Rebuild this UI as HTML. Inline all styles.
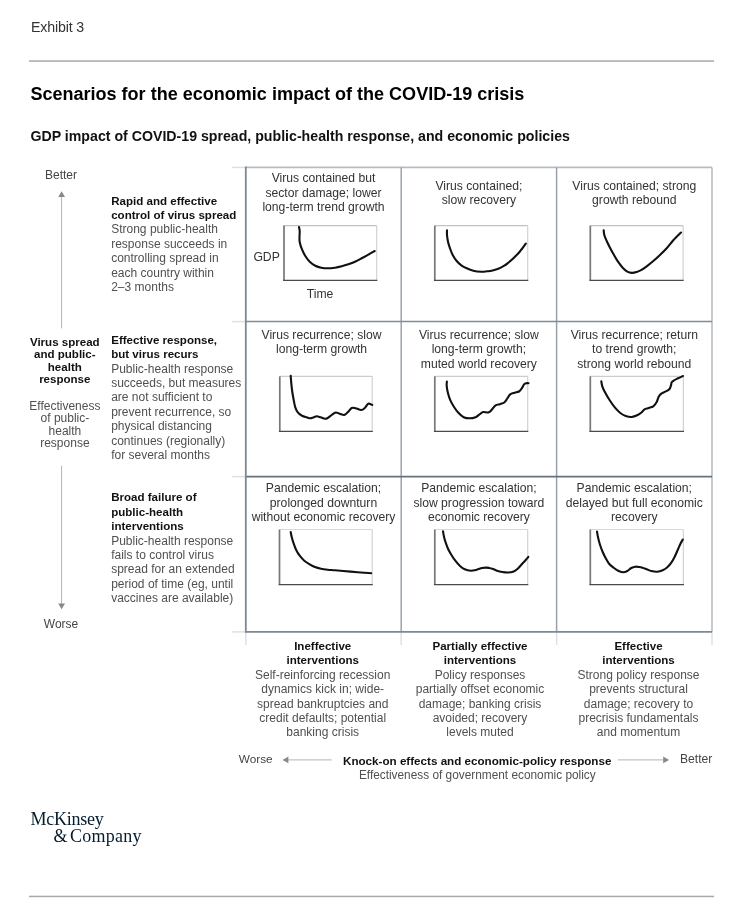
<!DOCTYPE html>
<html><head><meta charset="utf-8"><title>Exhibit 3</title>
<style>
html,body{margin:0;padding:0;background:#fff;}
body{width:750px;height:917px;overflow:hidden;}
svg{display:block;will-change:transform;font-family:"Liberation Sans",Arial,sans-serif;}
</style></head><body>
<svg width="750" height="917" viewBox="0 0 750 917">
<text x="31" y="32" font-size="14.2" font-weight="normal" fill="#333" text-anchor="start" letter-spacing="-0.15">Exhibit 3</text>
<rect x="29" y="60.3" width="685" height="1.5" fill="#a8a8a8"/>
<text x="30.4" y="100.3" font-size="18.05" font-weight="bold" fill="#000" text-anchor="start">Scenarios for the economic impact of the COVID-19 crisis</text>
<text x="30.5" y="140.9" font-size="14.16" font-weight="bold" fill="#111" text-anchor="start">GDP impact of COVID-19 spread, public-health response, and economic policies</text>
<text x="61" y="179.3" font-size="12" font-weight="normal" fill="#444" text-anchor="middle">Better</text>
<text x="61" y="627.6" font-size="12" font-weight="normal" fill="#444" text-anchor="middle">Worse</text>
<line x1="61.6" y1="196" x2="61.6" y2="328.4" stroke="#b4b4b4" stroke-width="1"/>
<polygon points="61.6,191.3 58.2,197 65,197" fill="#888"/>
<line x1="61.6" y1="465.7" x2="61.6" y2="604.5" stroke="#b4b4b4" stroke-width="1"/>
<polygon points="61.6,609.3 58.2,603.6 65,603.6" fill="#888"/>
<text x="64.8" y="345.5" font-size="11.55" font-weight="bold" fill="#111" text-anchor="middle">Virus spread</text>
<text x="64.8" y="358.0" font-size="11.55" font-weight="bold" fill="#111" text-anchor="middle">and public-</text>
<text x="64.8" y="370.5" font-size="11.55" font-weight="bold" fill="#111" text-anchor="middle">health</text>
<text x="64.8" y="383.0" font-size="11.55" font-weight="bold" fill="#111" text-anchor="middle">response</text>
<text x="64.9" y="409.5" font-size="12.0" font-weight="normal" fill="#505050" text-anchor="middle">Effectiveness</text>
<text x="64.9" y="422.1" font-size="12.0" font-weight="normal" fill="#505050" text-anchor="middle">of public-</text>
<text x="64.9" y="434.7" font-size="12.0" font-weight="normal" fill="#505050" text-anchor="middle">health</text>
<text x="64.9" y="447.3" font-size="12.0" font-weight="normal" fill="#505050" text-anchor="middle">response</text>
<text x="111.2" y="204.6" font-size="11.55" font-weight="bold" fill="#111" text-anchor="start">Rapid and effective</text>
<text x="111.2" y="219.0" font-size="11.55" font-weight="bold" fill="#111" text-anchor="start">control of virus spread</text>
<text x="111.2" y="233.4" font-size="12.0" font-weight="normal" fill="#505050" text-anchor="start">Strong public-health</text>
<text x="111.2" y="247.8" font-size="12.0" font-weight="normal" fill="#505050" text-anchor="start">response succeeds in</text>
<text x="111.2" y="262.2" font-size="12.0" font-weight="normal" fill="#505050" text-anchor="start">controlling spread in</text>
<text x="111.2" y="276.6" font-size="12.0" font-weight="normal" fill="#505050" text-anchor="start">each country within</text>
<text x="111.2" y="291.0" font-size="12.0" font-weight="normal" fill="#505050" text-anchor="start">2–3 months</text>
<text x="111.2" y="343.7" font-size="11.55" font-weight="bold" fill="#111" text-anchor="start">Effective response,</text>
<text x="111.2" y="358.1" font-size="11.55" font-weight="bold" fill="#111" text-anchor="start">but virus recurs</text>
<text x="111.2" y="372.5" font-size="12.0" font-weight="normal" fill="#505050" text-anchor="start">Public-health response</text>
<text x="111.2" y="386.9" font-size="12.0" font-weight="normal" fill="#505050" text-anchor="start">succeeds, but measures</text>
<text x="111.2" y="401.3" font-size="12.0" font-weight="normal" fill="#505050" text-anchor="start">are not sufficient to</text>
<text x="111.2" y="415.7" font-size="12.0" font-weight="normal" fill="#505050" text-anchor="start">prevent recurrence, so</text>
<text x="111.2" y="430.1" font-size="12.0" font-weight="normal" fill="#505050" text-anchor="start">physical distancing</text>
<text x="111.2" y="444.5" font-size="12.0" font-weight="normal" fill="#505050" text-anchor="start">continues (regionally)</text>
<text x="111.2" y="458.9" font-size="12.0" font-weight="normal" fill="#505050" text-anchor="start">for several months</text>
<text x="111.2" y="501.4" font-size="11.55" font-weight="bold" fill="#111" text-anchor="start">Broad failure of</text>
<text x="111.2" y="515.8" font-size="11.55" font-weight="bold" fill="#111" text-anchor="start">public-health</text>
<text x="111.2" y="530.2" font-size="11.55" font-weight="bold" fill="#111" text-anchor="start">interventions</text>
<text x="111.2" y="544.6" font-size="12.0" font-weight="normal" fill="#505050" text-anchor="start">Public-health response</text>
<text x="111.2" y="559.0" font-size="12.0" font-weight="normal" fill="#505050" text-anchor="start">fails to control virus</text>
<text x="111.2" y="573.4" font-size="12.0" font-weight="normal" fill="#505050" text-anchor="start">spread for an extended</text>
<text x="111.2" y="587.8" font-size="12.0" font-weight="normal" fill="#505050" text-anchor="start">period of time (eg, until</text>
<text x="111.2" y="602.2" font-size="12.0" font-weight="normal" fill="#505050" text-anchor="start">vaccines are available)</text>
<line x1="232" y1="167.4" x2="245.8" y2="167.4" stroke="#e0e0e0" stroke-width="1.5"/>
<line x1="232" y1="321.6" x2="245.8" y2="321.6" stroke="#e0e0e0" stroke-width="1.5"/>
<line x1="232" y1="476.6" x2="245.8" y2="476.6" stroke="#e0e0e0" stroke-width="1.5"/>
<line x1="232" y1="631.9" x2="245.8" y2="631.9" stroke="#e0e0e0" stroke-width="1.5"/>
<line x1="245.8" y1="631.9" x2="245.8" y2="645" stroke="#e0e0e0" stroke-width="1.5"/>
<line x1="401.2" y1="631.9" x2="401.2" y2="645" stroke="#e0e0e0" stroke-width="1.5"/>
<line x1="556.6" y1="631.9" x2="556.6" y2="645" stroke="#e0e0e0" stroke-width="1.5"/>
<line x1="712" y1="631.9" x2="712" y2="645" stroke="#e0e0e0" stroke-width="1.5"/>
<line x1="245.8" y1="167.4" x2="712" y2="167.4" stroke="#b7bcc3" stroke-width="1.6"/>
<line x1="712" y1="167.4" x2="712" y2="631.9" stroke="#c0c6cb" stroke-width="1.8"/>
<line x1="401.2" y1="167.4" x2="401.2" y2="631.9" stroke="#9aa4ad" stroke-width="1.5"/>
<line x1="556.6" y1="167.4" x2="556.6" y2="631.9" stroke="#98a0ac" stroke-width="1.5"/>
<line x1="245.8" y1="321.6" x2="712" y2="321.6" stroke="#808c96" stroke-width="1.5"/>
<line x1="245.8" y1="476.6" x2="712" y2="476.6" stroke="#66737d" stroke-width="1.6"/>
<line x1="245.8" y1="631.9" x2="712" y2="631.9" stroke="#7c8893" stroke-width="1.8"/>
<line x1="245.8" y1="166.6" x2="245.8" y2="632.8" stroke="#7b8994" stroke-width="1.8"/>
<text x="323.5" y="182.4" font-size="12.15" font-weight="normal" fill="#333" text-anchor="middle">Virus contained but</text>
<text x="323.5" y="196.75" font-size="12.15" font-weight="normal" fill="#333" text-anchor="middle">sector damage; lower</text>
<text x="323.5" y="211.1" font-size="12.15" font-weight="normal" fill="#333" text-anchor="middle">long-term trend growth</text>
<text x="478.9" y="189.6" font-size="12.15" font-weight="normal" fill="#333" text-anchor="middle">Virus contained;</text>
<text x="478.9" y="203.95" font-size="12.15" font-weight="normal" fill="#333" text-anchor="middle">slow recovery</text>
<text x="634.3" y="189.6" font-size="12.15" font-weight="normal" fill="#333" text-anchor="middle">Virus contained; strong</text>
<text x="634.3" y="203.95" font-size="12.15" font-weight="normal" fill="#333" text-anchor="middle">growth rebound</text>
<text x="321.5" y="338.8" font-size="12.15" font-weight="normal" fill="#333" text-anchor="middle">Virus recurrence; slow</text>
<text x="321.5" y="353.15" font-size="12.15" font-weight="normal" fill="#333" text-anchor="middle">long-term growth</text>
<text x="478.9" y="338.8" font-size="12.15" font-weight="normal" fill="#333" text-anchor="middle">Virus recurrence; slow</text>
<text x="478.9" y="353.15" font-size="12.15" font-weight="normal" fill="#333" text-anchor="middle">long-term growth;</text>
<text x="478.9" y="367.5" font-size="12.15" font-weight="normal" fill="#333" text-anchor="middle">muted world recovery</text>
<text x="634.3" y="338.8" font-size="12.15" font-weight="normal" fill="#333" text-anchor="middle">Virus recurrence; return</text>
<text x="634.3" y="353.15" font-size="12.15" font-weight="normal" fill="#333" text-anchor="middle">to trend growth;</text>
<text x="634.3" y="367.5" font-size="12.15" font-weight="normal" fill="#333" text-anchor="middle">strong world rebound</text>
<text x="323.5" y="492.2" font-size="12.15" font-weight="normal" fill="#333" text-anchor="middle">Pandemic escalation;</text>
<text x="323.5" y="506.55" font-size="12.15" font-weight="normal" fill="#333" text-anchor="middle">prolonged downturn</text>
<text x="323.5" y="520.9" font-size="12.15" font-weight="normal" fill="#333" text-anchor="middle">without economic recovery</text>
<text x="478.9" y="492.2" font-size="12.15" font-weight="normal" fill="#333" text-anchor="middle">Pandemic escalation;</text>
<text x="478.9" y="506.55" font-size="12.15" font-weight="normal" fill="#333" text-anchor="middle">slow progression toward</text>
<text x="478.9" y="520.9" font-size="12.15" font-weight="normal" fill="#333" text-anchor="middle">economic recovery</text>
<text x="634.3" y="492.2" font-size="12.15" font-weight="normal" fill="#333" text-anchor="middle">Pandemic escalation;</text>
<text x="634.3" y="506.55" font-size="12.15" font-weight="normal" fill="#333" text-anchor="middle">delayed but full economic</text>
<text x="634.3" y="520.9" font-size="12.15" font-weight="normal" fill="#333" text-anchor="middle">recovery</text>
<text x="253.4" y="260.6" font-size="12.2" font-weight="normal" fill="#333" text-anchor="start">GDP</text>
<text x="306.7" y="297.5" font-size="12.2" font-weight="normal" fill="#333" text-anchor="start">Time</text>
<line x1="284" y1="225.6" x2="376.7" y2="225.6" stroke="#c2c2c2" stroke-width="1.2"/>
<line x1="376.7" y1="225.6" x2="376.7" y2="280.4" stroke="#d2d2d2" stroke-width="1.2"/>
<line x1="284" y1="225.6" x2="284" y2="280.4" stroke="#777" stroke-width="1.7"/>
<line x1="283.1" y1="280.4" x2="377.3" y2="280.4" stroke="#4a4a4a" stroke-width="1.25"/>
<path d="M299.00,227.00 C299.12,227.72 299.62,229.68 299.70,231.30 C299.78,232.92 299.50,234.92 299.50,236.70 C299.50,238.48 299.33,240.00 299.70,242.00 C300.07,244.00 300.77,246.37 301.70,248.70 C302.63,251.03 303.92,253.78 305.30,256.00 C306.68,258.22 308.33,260.38 310.00,262.00 C311.67,263.62 313.42,264.75 315.30,265.70 C317.18,266.65 319.30,267.27 321.30,267.70 C323.30,268.13 325.02,268.30 327.30,268.30 C329.58,268.30 332.60,268.03 335.00,267.70 C337.40,267.37 339.48,266.87 341.70,266.30 C343.92,265.73 346.08,265.07 348.30,264.30 C350.52,263.53 352.77,262.70 355.00,261.70 C357.23,260.70 359.48,259.47 361.70,258.30 C363.92,257.13 366.13,255.92 368.30,254.70 C370.47,253.48 373.63,251.62 374.70,251.00" fill="none" stroke="#111" stroke-width="2.1" stroke-linecap="round" stroke-linejoin="round"/>
<line x1="434.8" y1="225.6" x2="527.7" y2="225.6" stroke="#c2c2c2" stroke-width="1.2"/>
<line x1="527.7" y1="225.6" x2="527.7" y2="280.3" stroke="#d2d2d2" stroke-width="1.2"/>
<line x1="434.8" y1="225.6" x2="434.8" y2="280.3" stroke="#777" stroke-width="1.7"/>
<line x1="433.90000000000003" y1="280.3" x2="528.3000000000001" y2="280.3" stroke="#4a4a4a" stroke-width="1.25"/>
<path d="M447.00,230.30 C447.00,231.08 446.83,233.10 447.00,235.00 C447.17,236.90 447.50,239.48 448.00,241.70 C448.50,243.92 449.22,246.08 450.00,248.30 C450.78,250.52 451.58,252.88 452.70,255.00 C453.82,257.12 455.27,259.28 456.70,261.00 C458.13,262.72 459.63,264.08 461.30,265.30 C462.97,266.52 464.70,267.40 466.70,268.30 C468.70,269.20 470.87,270.13 473.30,270.70 C475.73,271.27 479.02,271.60 481.30,271.70 C483.58,271.80 485.27,271.47 487.00,271.30 C488.73,271.13 489.82,271.13 491.70,270.70 C493.58,270.27 496.20,269.53 498.30,268.70 C500.40,267.87 502.63,266.70 504.30,265.70 C505.97,264.70 506.73,263.98 508.30,262.70 C509.87,261.42 511.80,259.83 513.70,258.00 C515.60,256.17 517.68,254.08 519.70,251.70 C521.72,249.32 524.78,245.03 525.80,243.70" fill="none" stroke="#111" stroke-width="2.1" stroke-linecap="round" stroke-linejoin="round"/>
<line x1="590.3" y1="225.6" x2="683.1" y2="225.6" stroke="#c2c2c2" stroke-width="1.2"/>
<line x1="683.1" y1="225.6" x2="683.1" y2="280.3" stroke="#d2d2d2" stroke-width="1.2"/>
<line x1="590.3" y1="225.6" x2="590.3" y2="280.3" stroke="#777" stroke-width="1.7"/>
<line x1="589.4" y1="280.3" x2="683.7" y2="280.3" stroke="#4a4a4a" stroke-width="1.25"/>
<path d="M603.70,230.20 C603.80,231.00 603.80,233.20 604.30,235.00 C604.80,236.80 605.75,238.88 606.70,241.00 C607.65,243.12 608.78,245.37 610.00,247.70 C611.22,250.03 612.67,252.67 614.00,255.00 C615.33,257.33 616.55,259.58 618.00,261.70 C619.45,263.82 621.15,266.03 622.70,267.70 C624.25,269.37 625.75,270.83 627.30,271.70 C628.85,272.57 630.43,272.85 632.00,272.90 C633.57,272.95 635.20,272.45 636.70,272.00 C638.20,271.55 639.33,271.15 641.00,270.20 C642.67,269.25 644.65,267.83 646.70,266.30 C648.75,264.77 651.08,262.88 653.30,261.00 C655.52,259.12 657.77,257.12 660.00,255.00 C662.23,252.88 664.48,250.75 666.70,248.30 C668.92,245.85 670.92,242.93 673.30,240.30 C675.68,237.67 679.72,233.80 681.00,232.50" fill="none" stroke="#111" stroke-width="2.1" stroke-linecap="round" stroke-linejoin="round"/>
<line x1="279.8" y1="376.3" x2="372.2" y2="376.3" stroke="#cdcdcd" stroke-width="1.2"/>
<line x1="372.2" y1="376.3" x2="372.2" y2="431.3" stroke="#d2d2d2" stroke-width="1.2"/>
<line x1="279.8" y1="376.3" x2="279.8" y2="431.3" stroke="#777" stroke-width="1.7"/>
<line x1="278.90000000000003" y1="431.3" x2="372.8" y2="431.3" stroke="#4a4a4a" stroke-width="1.25"/>
<path d="M290.70,375.70 C290.80,376.97 291.03,380.58 291.30,383.30 C291.57,386.02 291.90,389.22 292.30,392.00 C292.70,394.78 293.20,397.45 293.70,400.00 C294.20,402.55 294.58,405.18 295.30,407.30 C296.02,409.42 296.88,411.30 298.00,412.70 C299.12,414.10 300.55,414.93 302.00,415.70 C303.45,416.47 305.32,416.87 306.70,417.30 C308.08,417.73 309.20,418.27 310.30,418.30 C311.40,418.33 312.23,417.83 313.30,417.50 C314.37,417.17 315.47,416.33 316.70,416.30 C317.93,416.27 319.32,416.90 320.70,417.30 C322.08,417.70 323.83,418.58 325.00,418.70 C326.17,418.82 326.58,418.62 327.70,418.00 C328.82,417.38 330.37,415.92 331.70,415.00 C333.03,414.08 334.37,412.72 335.70,412.50 C337.03,412.28 338.27,413.30 339.70,413.70 C341.13,414.10 342.97,415.13 344.30,414.90 C345.63,414.67 346.47,413.45 347.70,412.30 C348.93,411.15 350.37,408.67 351.70,408.00 C353.03,407.33 354.10,407.97 355.70,408.30 C357.30,408.63 359.75,410.10 361.30,410.00 C362.85,409.90 363.83,408.75 365.00,407.70 C366.17,406.65 367.08,404.15 368.30,403.70 C369.52,403.25 371.63,404.78 372.30,405.00" fill="none" stroke="#111" stroke-width="2.1" stroke-linecap="round" stroke-linejoin="round"/>
<line x1="434.8" y1="376.3" x2="527.7" y2="376.3" stroke="#cdcdcd" stroke-width="1.2"/>
<line x1="527.7" y1="376.3" x2="527.7" y2="431.3" stroke="#d2d2d2" stroke-width="1.2"/>
<line x1="434.8" y1="376.3" x2="434.8" y2="431.3" stroke="#777" stroke-width="1.7"/>
<line x1="433.90000000000003" y1="431.3" x2="528.3000000000001" y2="431.3" stroke="#4a4a4a" stroke-width="1.25"/>
<path d="M446.90,381.50 C446.87,382.25 446.52,384.03 446.70,386.00 C446.88,387.97 447.37,390.85 448.00,393.30 C448.63,395.75 449.47,398.37 450.50,400.70 C451.53,403.03 452.85,405.23 454.20,407.30 C455.55,409.37 457.02,411.45 458.60,413.10 C460.18,414.75 461.87,416.33 463.70,417.20 C465.53,418.07 467.63,418.30 469.60,418.30 C471.57,418.30 473.78,417.88 475.50,417.20 C477.22,416.52 478.63,415.07 479.90,414.20 C481.17,413.33 481.72,412.28 483.10,412.00 C484.48,411.72 486.87,412.73 488.20,412.50 C489.53,412.27 489.88,411.78 491.10,410.60 C492.32,409.42 494.03,406.47 495.50,405.40 C496.97,404.33 498.43,404.68 499.90,404.20 C501.37,403.72 503.07,403.45 504.30,402.50 C505.53,401.55 506.32,399.85 507.30,398.50 C508.28,397.15 508.98,395.37 510.20,394.40 C511.42,393.43 513.13,393.18 514.60,392.70 C516.07,392.22 517.78,392.25 519.00,391.50 C520.22,390.75 521.05,389.38 521.90,388.20 C522.75,387.02 523.37,385.23 524.10,384.40 C524.83,383.57 525.57,383.40 526.30,383.20 C527.03,383.00 528.13,383.20 528.50,383.20" fill="none" stroke="#111" stroke-width="2.1" stroke-linecap="round" stroke-linejoin="round"/>
<line x1="590.3" y1="376.3" x2="683.4" y2="376.3" stroke="#cdcdcd" stroke-width="1.2"/>
<line x1="683.4" y1="376.3" x2="683.4" y2="431.3" stroke="#d2d2d2" stroke-width="1.2"/>
<line x1="590.3" y1="376.3" x2="590.3" y2="431.3" stroke="#777" stroke-width="1.7"/>
<line x1="589.4" y1="431.3" x2="684.0" y2="431.3" stroke="#4a4a4a" stroke-width="1.25"/>
<path d="M601.30,381.30 C601.47,382.13 601.68,384.47 602.30,386.30 C602.92,388.13 603.77,389.97 605.00,392.30 C606.23,394.63 608.03,397.73 609.70,400.30 C611.37,402.87 613.23,405.58 615.00,407.70 C616.77,409.82 618.52,411.62 620.30,413.00 C622.08,414.38 623.80,415.33 625.70,416.00 C627.60,416.67 629.70,417.17 631.70,417.00 C633.70,416.83 636.03,415.78 637.70,415.00 C639.37,414.22 640.57,413.25 641.70,412.30 C642.83,411.35 643.33,410.02 644.50,409.30 C645.67,408.58 647.23,408.50 648.70,408.00 C650.17,407.50 651.97,407.30 653.30,406.30 C654.63,405.30 655.80,403.60 656.70,402.00 C657.60,400.40 657.93,398.08 658.70,396.70 C659.47,395.32 660.20,394.53 661.30,393.70 C662.40,392.87 663.97,392.43 665.30,391.70 C666.63,390.97 668.35,390.37 669.30,389.30 C670.25,388.23 670.60,386.47 671.00,385.30 C671.40,384.13 671.20,383.13 671.70,382.30 C672.20,381.47 672.95,380.97 674.00,380.30 C675.05,379.63 676.50,379.02 678.00,378.30 C679.50,377.58 682.17,376.38 683.00,376.00" fill="none" stroke="#111" stroke-width="2.1" stroke-linecap="round" stroke-linejoin="round"/>
<line x1="279.5" y1="529.5" x2="372.2" y2="529.5" stroke="#d8d8d8" stroke-width="1.2"/>
<line x1="372.2" y1="529.5" x2="372.2" y2="584.5" stroke="#d2d2d2" stroke-width="1.2"/>
<line x1="279.5" y1="529.5" x2="279.5" y2="584.5" stroke="#777" stroke-width="1.7"/>
<line x1="278.6" y1="584.5" x2="372.8" y2="584.5" stroke="#4a4a4a" stroke-width="1.25"/>
<path d="M290.70,532.00 C290.87,532.83 291.20,535.05 291.70,537.00 C292.20,538.95 292.93,541.48 293.70,543.70 C294.47,545.92 295.30,548.30 296.30,550.30 C297.30,552.30 298.37,553.97 299.70,555.70 C301.03,557.43 302.63,559.27 304.30,560.70 C305.97,562.13 307.92,563.25 309.70,564.30 C311.48,565.35 313.12,566.27 315.00,567.00 C316.88,567.73 318.88,568.25 321.00,568.70 C323.12,569.15 325.37,569.43 327.70,569.70 C330.03,569.97 331.17,569.98 335.00,570.30 C338.83,570.62 346.38,571.23 350.70,571.60 C355.02,571.97 357.48,572.23 360.90,572.50 C364.32,572.77 369.48,573.08 371.20,573.20" fill="none" stroke="#111" stroke-width="2.1" stroke-linecap="round" stroke-linejoin="round"/>
<line x1="434.8" y1="529.5" x2="527.7" y2="529.5" stroke="#d8d8d8" stroke-width="1.2"/>
<line x1="527.7" y1="529.5" x2="527.7" y2="584.5" stroke="#d2d2d2" stroke-width="1.2"/>
<line x1="434.8" y1="529.5" x2="434.8" y2="584.5" stroke="#777" stroke-width="1.7"/>
<line x1="433.90000000000003" y1="584.5" x2="528.3000000000001" y2="584.5" stroke="#4a4a4a" stroke-width="1.25"/>
<path d="M443.00,531.30 C443.17,532.20 443.55,534.80 444.00,536.70 C444.45,538.60 445.03,540.70 445.70,542.70 C446.37,544.70 447.07,546.70 448.00,548.70 C448.93,550.70 450.08,552.70 451.30,554.70 C452.52,556.70 453.85,558.82 455.30,560.70 C456.75,562.58 458.43,564.57 460.00,566.00 C461.57,567.43 462.92,568.52 464.70,569.30 C466.48,570.08 468.70,570.63 470.70,570.70 C472.70,570.77 474.82,570.15 476.70,569.70 C478.58,569.25 480.45,568.35 482.00,568.00 C483.55,567.65 484.83,567.62 486.00,567.60 C487.17,567.58 487.95,567.72 489.00,567.90 C490.05,568.08 490.97,568.23 492.30,568.70 C493.63,569.17 495.33,570.15 497.00,570.70 C498.67,571.25 500.42,571.70 502.30,572.00 C504.18,572.30 506.52,572.55 508.30,572.50 C510.08,572.45 511.43,572.33 513.00,571.70 C514.57,571.07 516.15,570.03 517.70,568.70 C519.25,567.37 520.97,565.15 522.30,563.70 C523.63,562.25 524.70,561.13 525.70,560.00 C526.70,558.87 527.87,557.42 528.30,556.90" fill="none" stroke="#111" stroke-width="2.1" stroke-linecap="round" stroke-linejoin="round"/>
<line x1="590.3" y1="529.5" x2="683.4" y2="529.5" stroke="#d8d8d8" stroke-width="1.2"/>
<line x1="683.4" y1="529.5" x2="683.4" y2="584.5" stroke="#d2d2d2" stroke-width="1.2"/>
<line x1="590.3" y1="529.5" x2="590.3" y2="584.5" stroke="#777" stroke-width="1.7"/>
<line x1="589.4" y1="584.5" x2="684.0" y2="584.5" stroke="#4a4a4a" stroke-width="1.25"/>
<path d="M597.00,531.50 C597.17,532.47 597.50,535.10 598.00,537.30 C598.50,539.50 599.22,542.25 600.00,544.70 C600.78,547.15 601.70,549.67 602.70,552.00 C603.70,554.33 604.90,556.70 606.00,558.70 C607.10,560.70 607.97,562.45 609.30,564.00 C610.63,565.55 612.43,566.83 614.00,568.00 C615.57,569.17 617.15,570.28 618.70,571.00 C620.25,571.72 621.87,572.30 623.30,572.30 C624.73,572.30 625.97,571.72 627.30,571.00 C628.63,570.28 629.97,568.72 631.30,568.00 C632.63,567.28 633.97,566.87 635.30,566.70 C636.63,566.53 638.10,566.82 639.30,567.00 C640.50,567.18 641.27,567.42 642.50,567.80 C643.73,568.18 645.23,568.77 646.70,569.30 C648.17,569.83 649.53,570.60 651.30,571.00 C653.07,571.40 655.40,571.82 657.30,571.70 C659.20,571.58 661.03,571.03 662.70,570.30 C664.37,569.57 665.87,568.57 667.30,567.30 C668.73,566.03 670.07,564.47 671.30,562.70 C672.53,560.93 673.58,558.93 674.70,556.70 C675.82,554.47 677.00,551.53 678.00,549.30 C679.00,547.07 679.90,544.93 680.70,543.30 C681.50,541.67 682.45,540.13 682.80,539.50" fill="none" stroke="#111" stroke-width="2.1" stroke-linecap="round" stroke-linejoin="round"/>
<text x="322.7" y="649.9" font-size="11.55" font-weight="bold" fill="#111" text-anchor="middle">Ineffective</text>
<text x="322.7" y="664.32" font-size="11.55" font-weight="bold" fill="#111" text-anchor="middle">interventions</text>
<text x="322.7" y="678.74" font-size="12.0" font-weight="normal" fill="#505050" text-anchor="middle">Self-reinforcing recession</text>
<text x="322.7" y="693.16" font-size="12.0" font-weight="normal" fill="#505050" text-anchor="middle">dynamics kick in; wide-</text>
<text x="322.7" y="707.58" font-size="12.0" font-weight="normal" fill="#505050" text-anchor="middle">spread bankruptcies and</text>
<text x="322.7" y="722.0" font-size="12.0" font-weight="normal" fill="#505050" text-anchor="middle">credit defaults; potential</text>
<text x="322.7" y="736.42" font-size="12.0" font-weight="normal" fill="#505050" text-anchor="middle">banking crisis</text>
<text x="480.0" y="649.9" font-size="11.55" font-weight="bold" fill="#111" text-anchor="middle">Partially effective</text>
<text x="480.0" y="664.32" font-size="11.55" font-weight="bold" fill="#111" text-anchor="middle">interventions</text>
<text x="480.0" y="678.74" font-size="12.0" font-weight="normal" fill="#505050" text-anchor="middle">Policy responses</text>
<text x="480.0" y="693.16" font-size="12.0" font-weight="normal" fill="#505050" text-anchor="middle">partially offset economic</text>
<text x="480.0" y="707.58" font-size="12.0" font-weight="normal" fill="#505050" text-anchor="middle">damage; banking crisis</text>
<text x="480.0" y="722.0" font-size="12.0" font-weight="normal" fill="#505050" text-anchor="middle">avoided; recovery</text>
<text x="480.0" y="736.42" font-size="12.0" font-weight="normal" fill="#505050" text-anchor="middle">levels muted</text>
<text x="638.5" y="649.9" font-size="11.55" font-weight="bold" fill="#111" text-anchor="middle">Effective</text>
<text x="638.5" y="664.32" font-size="11.55" font-weight="bold" fill="#111" text-anchor="middle">interventions</text>
<text x="638.5" y="678.74" font-size="12.0" font-weight="normal" fill="#505050" text-anchor="middle">Strong policy response</text>
<text x="638.5" y="693.16" font-size="12.0" font-weight="normal" fill="#505050" text-anchor="middle">prevents structural</text>
<text x="638.5" y="707.58" font-size="12.0" font-weight="normal" fill="#505050" text-anchor="middle">damage; recovery to</text>
<text x="638.5" y="722.0" font-size="12.0" font-weight="normal" fill="#505050" text-anchor="middle">precrisis fundamentals</text>
<text x="638.5" y="736.42" font-size="12.0" font-weight="normal" fill="#505050" text-anchor="middle">and momentum</text>
<text x="238.8" y="762.6" font-size="11.8" font-weight="normal" fill="#444" text-anchor="start">Worse</text>
<text x="680" y="762.6" font-size="12.1" font-weight="normal" fill="#444" text-anchor="start">Better</text>
<line x1="288" y1="759.9" x2="331.6" y2="759.9" stroke="#b4b4b4" stroke-width="1"/>
<polygon points="282.5,759.9 288.4,756.6 288.4,763.2" fill="#888"/>
<line x1="617.9" y1="759.9" x2="663.5" y2="759.9" stroke="#b4b4b4" stroke-width="1"/>
<polygon points="669.1,759.9 663.2,756.6 663.2,763.2" fill="#888"/>
<text x="477.2" y="765.4" font-size="11.65" font-weight="bold" fill="#111" text-anchor="middle">Knock-on effects and economic-policy response</text>
<text x="477.3" y="779.1" font-size="11.85" font-weight="normal" fill="#505050" text-anchor="middle">Effectiveness of government economic policy</text>
<text x="30.6" y="824.8" font-family="Liberation Serif, serif" font-size="18" fill="#051c2c" letter-spacing="-0.25">McKinsey</text>
<text x="53.6" y="842" font-family="Liberation Serif, serif" font-size="18" fill="#051c2c" letter-spacing="0.25" word-spacing="-2.6">&amp; Company</text>
<rect x="29" y="895.7" width="685" height="1.5" fill="#a8a8a8"/>
</svg>
</body></html>
